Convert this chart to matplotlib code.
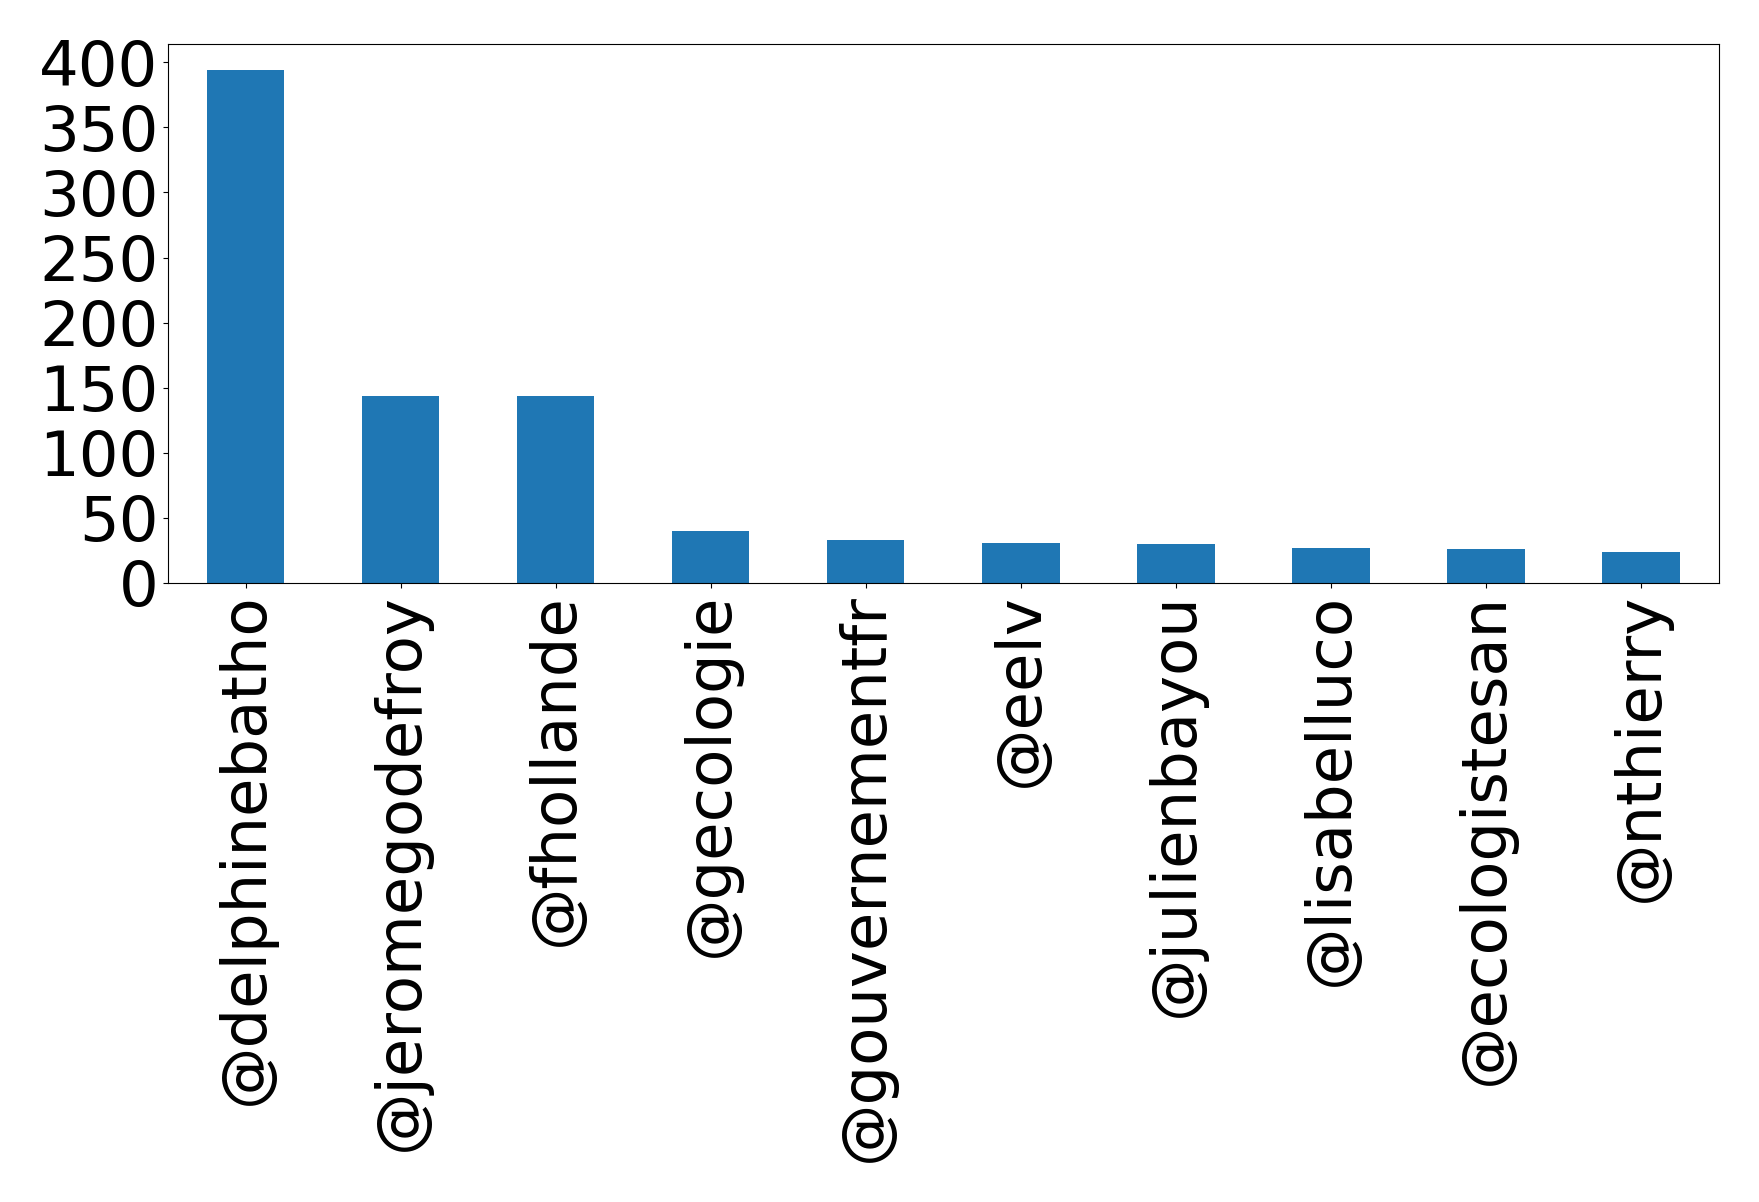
import matplotlib
matplotlib.use('Agg')
import matplotlib.pyplot as plt

# data
accounts = ['@delphinebatho', '@jeromegodefroy', '@fhollande', '@gecologie',
            '@gouvernementfr', '@eelv', '@julienbayou', '@lisabelluco',
            '@ecologistesan', '@nthierry']
counts = [394, 144, 144, 40, 33, 31, 30, 27, 26, 24]


fig = plt.figure(figsize=(17.59, 12.02), dpi=100)
ax = fig.add_subplot(111)
ax.bar(range(len(accounts)), counts, width=0.5, color='#1f77b4')
ax.set_xticks(range(len(accounts)))
ax.set_xticklabels(accounts, rotation=90)
ax.set_xlim(-0.5, len(accounts) - 0.5)
ax.set_yticks(range(0, 401, 50))
ax.tick_params(axis='both', labelsize=45)
fig.subplots_adjust(left=0.0955, right=0.977, top=0.963, bottom=0.515)
fig.savefig('out.png', dpi=100)
